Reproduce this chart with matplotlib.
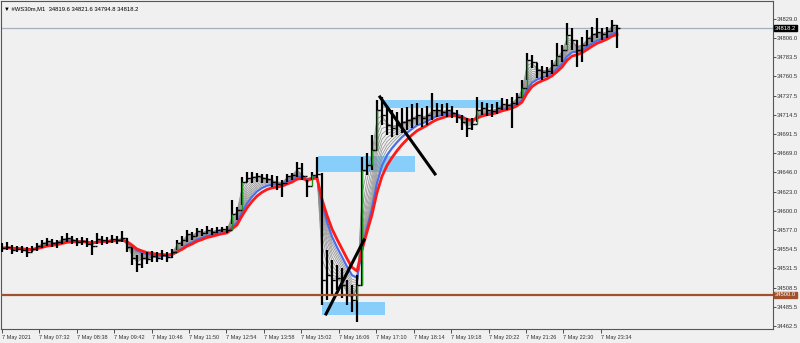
import numpy as np
import pandas as pd
import matplotlib.pyplot as plt
from matplotlib.patches import Rectangle

plt.rcParams['font.family'] = ['Liberation Sans', 'DejaVu Sans']

# M1 bars of #WS30m (one bar every ~8.5 minutes)
highs = [34561.9, 34563.1, 34559.5, 34558.3, 34558.3, 34557.1, 34558.3, 34561.9, 34565.5, 34567.9,
         34566.7, 34565.5, 34570.2, 34573.8, 34570.2, 34567.9, 34569.1, 34567.9, 34565.5, 34573.8,
         34570.2, 34569.1, 34571.4, 34570.2, 34576.2, 34567.9, 34555.9, 34547.6, 34550.0, 34551.2,
         34552.4, 34551.2, 34553.5, 34551.2, 34554.7, 34565.5, 34570.2, 34577.4, 34575.0, 34579.8,
         34578.6, 34582.2, 34579.8, 34581.0, 34581.0, 34582.2, 34613.2, 34604.8, 34640.6, 34646.6,
         34646.6, 34645.4, 34644.2, 34644.2, 34643.0, 34641.8, 34637.0, 34644.2, 34645.4, 34658.5,
         34657.3, 34637.0, 34646.6, 34664.5, 34645.4, 34553.5, 34541.6, 34535.7, 34532.1, 34517.8,
         34511.8, 34523.7, 34664.5, 34669.2, 34690.7, 34732.4, 34736.0, 34724.1, 34720.5, 34718.1,
         34722.9, 34724.1, 34727.7, 34728.9, 34722.9, 34725.3, 34740.8, 34728.9, 34727.7, 34728.9,
         34725.3, 34720.5, 34714.6, 34711.0, 34711.0, 34736.0, 34730.1, 34728.9, 34727.7, 34730.1,
         34734.8, 34733.6, 34736.0, 34740.8, 34756.3, 34788.5, 34786.1, 34776.6, 34773.0, 34771.8,
         34780.1, 34800.4, 34798.0, 34824.3, 34818.3, 34804.0, 34807.6, 34815.9, 34819.5, 34830.2,
         34818.3, 34819.5, 34827.8, 34821.6]
lows = [34551.2, 34553.5, 34548.8, 34551.2, 34550.0, 34545.2, 34551.2, 34552.4, 34555.9, 34558.3,
        34557.1, 34555.9, 34560.7, 34563.1, 34560.7, 34558.3, 34559.5, 34557.1, 34547.6, 34560.7,
        34559.5, 34560.7, 34561.9, 34560.7, 34563.1, 34551.2, 34535.7, 34527.3, 34532.1, 34536.9,
        34539.2, 34539.2, 34541.6, 34539.2, 34544.0, 34553.5, 34558.3, 34563.1, 34565.5, 34570.2,
        34570.2, 34572.6, 34571.4, 34573.8, 34575.0, 34573.8, 34584.6, 34589.3, 34607.2, 34634.6,
        34633.5, 34634.6, 34633.5, 34633.5, 34628.7, 34625.1, 34616.8, 34634.6, 34637.0, 34640.6,
        34637.0, 34616.8, 34637.0, 34639.4, 34488.0, 34493.9, 34499.9, 34505.8, 34496.3, 34488.0,
        34479.6, 34467.7, 34511.8, 34643.0, 34649.0, 34672.8, 34702.6, 34690.7, 34688.3, 34690.7,
        34693.1, 34696.7, 34699.0, 34702.6, 34700.2, 34702.6, 34708.6, 34712.2, 34713.4, 34712.2,
        34711.0, 34705.0, 34696.7, 34688.3, 34696.7, 34706.2, 34714.6, 34713.4, 34712.2, 34715.7,
        34720.5, 34720.5, 34699.0, 34726.5, 34736.0, 34756.3, 34770.6, 34758.7, 34756.3, 34759.9,
        34763.4, 34773.0, 34777.8, 34798.0, 34792.1, 34771.8, 34777.8, 34798.0, 34801.6, 34806.4,
        34804.0, 34806.4, 34813.5, 34794.8]
closes = [34555.9, 34557.1, 34553.5, 34554.7, 34553.5, 34551.2, 34554.7, 34558.3, 34561.9, 34564.3,
          34561.9, 34563.1, 34566.7, 34567.9, 34565.5, 34563.1, 34564.3, 34560.7, 34558.3, 34566.7,
          34565.5, 34564.3, 34566.7, 34565.5, 34567.9, 34557.1, 34544.0, 34536.9, 34544.0, 34542.8,
          34546.4, 34544.0, 34547.6, 34545.2, 34551.2, 34561.9, 34565.5, 34572.6, 34570.2, 34576.2,
          34573.8, 34577.4, 34575.0, 34577.4, 34578.6, 34577.4, 34596.5, 34601.3, 34634.6, 34639.4,
          34640.6, 34641.8, 34639.4, 34638.2, 34634.6, 34632.3, 34633.5, 34641.8, 34643.0, 34651.3,
          34641.8, 34629.9, 34643.0, 34644.2, 34517.8, 34523.7, 34517.8, 34520.2, 34511.8, 34499.9,
          34493.9, 34511.8, 34649.0, 34654.9, 34672.8, 34720.5, 34714.6, 34702.6, 34699.0, 34702.6,
          34706.2, 34708.6, 34711.0, 34714.6, 34711.0, 34714.6, 34720.5, 34720.5, 34718.1, 34720.5,
          34716.9, 34712.2, 34706.2, 34699.0, 34703.8, 34720.5, 34722.9, 34720.5, 34719.3, 34722.9,
          34727.7, 34726.5, 34728.9, 34736.0, 34746.8, 34780.1, 34777.8, 34768.2, 34765.8, 34767.0,
          34774.2, 34784.9, 34792.1, 34810.0, 34804.0, 34792.1, 34798.0, 34806.4, 34811.2, 34813.5,
          34811.2, 34814.7, 34821.9, 34818.2]

price_ticks = [34829.0, 34806.0, 34783.5, 34760.5, 34737.5, 34714.5, 34691.5, 34669.0,
               34646.0, 34623.0, 34600.0, 34577.0, 34554.5, 34531.5, 34508.5, 34485.5, 34462.5]
time_labels = ['7 May 2021', '7 May 07:32', '7 May 08:38', '7 May 09:42', '7 May 10:46',
               '7 May 11:50', '7 May 12:54', '7 May 13:58', '7 May 15:02', '7 May 16:06',
               '7 May 17:10', '7 May 18:14', '7 May 19:18', '7 May 20:22', '7 May 21:26',
               '7 May 22:30', '7 May 23:34']
time_tick_pos = [-0.06 + 7.49 * k for k in range(len(time_labels))]

ribbon_spans = [1.5, 2, 2.5, 3, 3.5, 4, 4.5, 5, 5.5, 6]
blue_span = 6.8
red_span = 8.5

bid = 34818.2
level = 34500.0

# zones and trend lines drawn by hand on the chart (bar index, price)
zones = [(76.2, 100.2, 34722.9, 34732.4),
         (63.2, 82.6, 34646.6, 34665.6),
         (64.0, 76.6, 34476.0, 34491.5)]
trend_lines = [((64.8, 72.4), (34477.2, 34565.5)),
               ((75.6, 86.6), (34736.0, 34644.2))]

bg = '#f0f0f0'
fig = plt.figure(figsize=(8, 3.43), dpi=100, facecolor=bg)
ax = fig.add_axes([1 / 800, 14 / 343, 772 / 800, 328 / 343], facecolor=bg)

x = np.arange(len(closes))
c = pd.Series(closes)
opens = [closes[0]] + closes[:-1]

for s in ribbon_spans:
    ax.plot(x, c.ewm(span=s, adjust=False).mean(), color='#8a8a8a', lw=0.5, zorder=2)
ax.plot(x, c.ewm(span=blue_span, adjust=False).mean(), color='#4a6fe8', lw=1.6, zorder=3)
ax.plot(x, c.ewm(span=red_span, adjust=False).mean(), color='#ff1a1a', lw=2.0, zorder=3)

for x0, x1, y0, y1 in zones:
    ax.add_patch(Rectangle((x0, y0), x1 - x0, y1 - y0, color='#87cefa', lw=0, zorder=1))

ax.vlines(x, lows, highs, color='black', lw=1.6, zorder=4)
ax.hlines(opens, x - 0.5, x, color='black', lw=1.0, zorder=4)
ax.hlines(closes, x, x + 0.5, color='black', lw=1.0, zorder=4)
up = [i for i in x if closes[i] - opens[i] > 10]
ax.vlines(up, [opens[i] for i in up], [closes[i] for i in up], color='#1f8f1f', lw=1.0, zorder=5)

for xs, ys in trend_lines:
    ax.plot(xs, ys, color='black', lw=2.2, zorder=6)

ax.axhline(bid, color='#a3afbf', lw=0.9, zorder=1)
ax.axhline(level, color='#a0522d', lw=1.6, zorder=6)

ax.set_xlim(-0.2, 154.2)
ax.set_ylim(34459.3, 34850.5)

ax.yaxis.tick_right()
ax.set_yticks(price_ticks)
ax.set_yticklabels([f'{p:.1f}' for p in price_ticks])
ax.tick_params(axis='y', length=2, width=0.6, pad=1, labelsize=4.2, colors='#333333')
ax.set_xticks(time_tick_pos)
ax.set_xticklabels(time_labels, ha='left')
ax.tick_params(axis='x', length=3, width=0.6, pad=1, labelsize=4, colors='#333333')
for sp in ax.spines.values():
    sp.set_color('#555555')
    sp.set_linewidth(0.8)

ax.text(1.0025, (bid - 34459.3) / (34850.5 - 34459.3), f'{bid:.1f}', transform=ax.transAxes,
        fontsize=4.2, color='white', va='center', ha='left',
        bbox=dict(boxstyle='square,pad=0.15', fc='black', ec='black'))
ax.text(1.0025, (level - 34459.3) / (34850.5 - 34459.3), f'{level:.1f}', transform=ax.transAxes,
        fontsize=4.2, color='white', va='center', ha='left',
        bbox=dict(boxstyle='square,pad=0.15', fc='#a0522d', ec='#a0522d'))

ax.text(0.004, 0.985, '\u25bc #WS30m,M1  34819.6 34821.6 34794.8 34818.2', transform=ax.transAxes,
        fontsize=4.2, color='black', va='top', ha='left')

fig.savefig('out.png', dpi=100, facecolor=bg)
